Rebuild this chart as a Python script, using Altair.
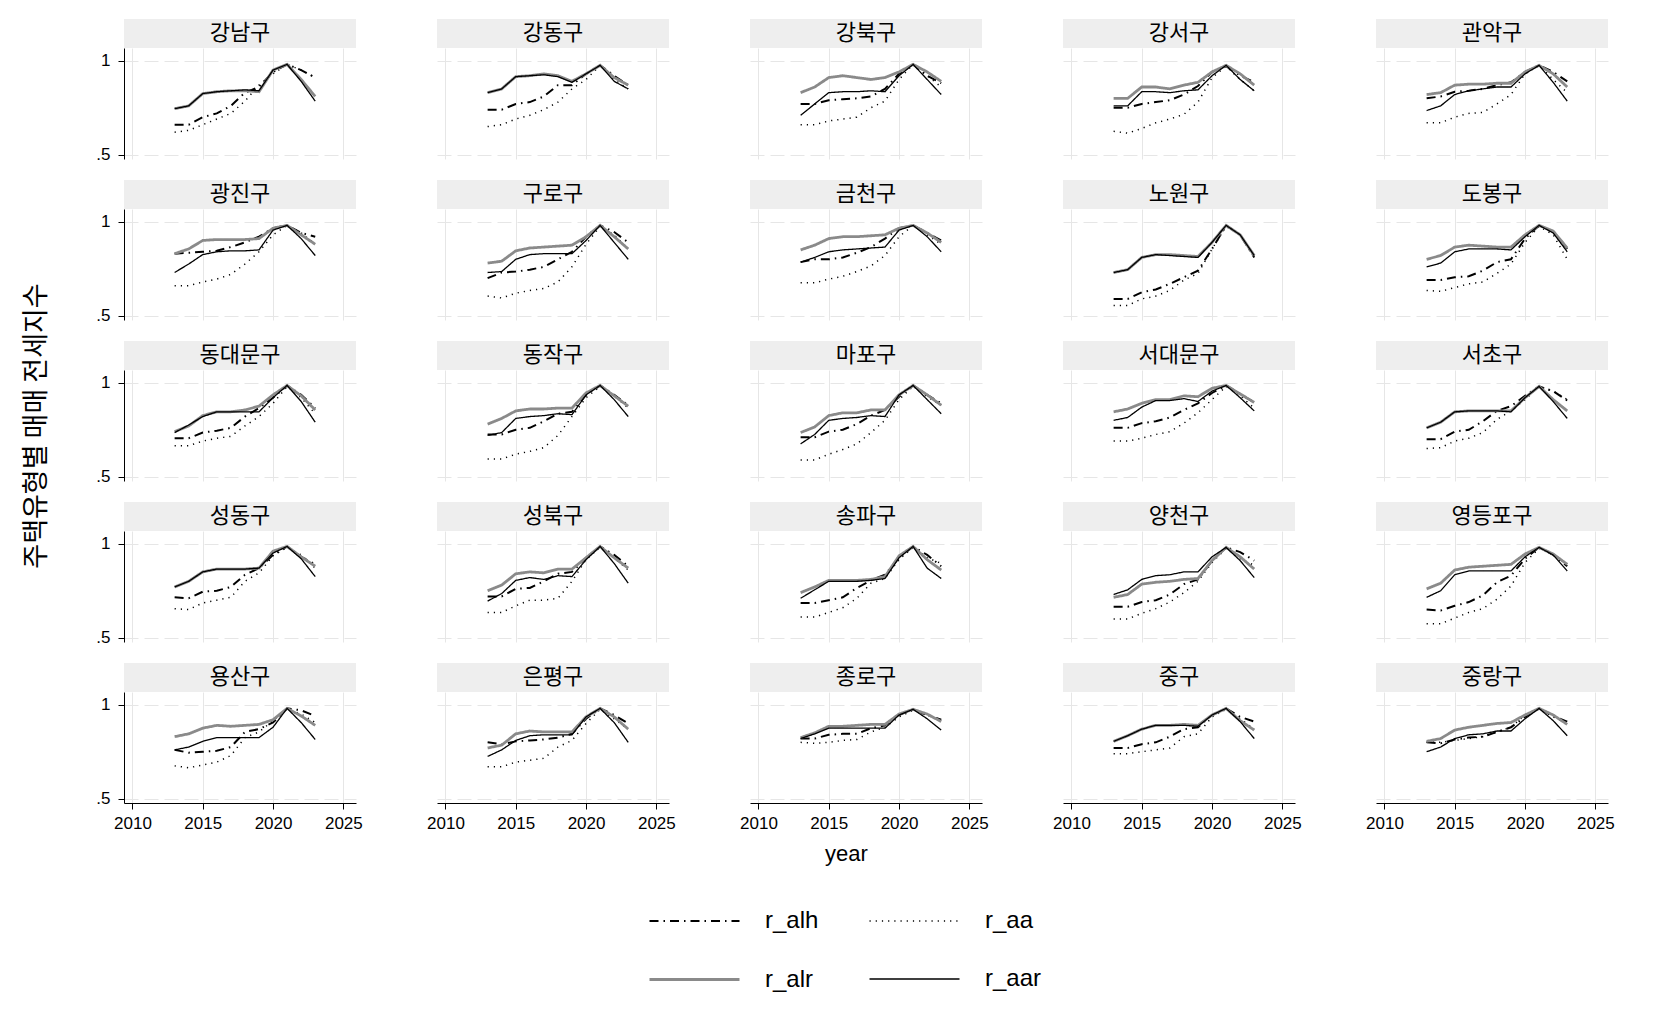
import altair as alt
import pandas as pd

YEARS = list(range(2013, 2024))
SERIES = ["r_alh", "r_aa", "r_alr", "r_aar"]          # drawing order
LEGEND_ORDER = ["r_alh", "r_alr", "r_aa", "r_aar"]    # legend filled column-wise
DISTRICTS = [
    "강남구", "강동구", "강북구", "강서구", "관악구",
    "광진구", "구로구", "금천구", "노원구", "도봉구",
    "동대문구", "동작구", "마포구", "서대문구", "서초구",
    "성동구", "성북구", "송파구", "양천구", "영등포구",
    "용산구", "은평구", "종로구", "중구", "중랑구",
]

R_ALH = {
    "강남구": [0.66, 0.66, 0.70, 0.72, 0.76, 0.83, 0.86, 0.94, 0.98, 0.95, 0.91],
    "강동구": [0.74, 0.74, 0.77, 0.78, 0.81, 0.87, 0.87, 0.93, 0.975, 0.92, 0.87],
    "강북구": [0.77, 0.77, 0.79, 0.795, 0.80, 0.81, 0.85, 0.93, 0.98, 0.92, 0.88],
    "강서구": [0.75, 0.75, 0.77, 0.78, 0.79, 0.82, 0.865, 0.94, 0.97, 0.92, 0.885],
    "관악구": [0.80, 0.81, 0.835, 0.84, 0.85, 0.87, 0.885, 0.94, 0.975, 0.94, 0.89],
    "광진구": [0.83, 0.835, 0.84, 0.845, 0.865, 0.89, 0.92, 0.965, 0.98, 0.94, 0.92],
    "구로구": [0.70, 0.73, 0.735, 0.745, 0.76, 0.80, 0.84, 0.92, 0.98, 0.945, 0.89],
    "금천구": [0.785, 0.80, 0.80, 0.81, 0.835, 0.865, 0.91, 0.965, 0.98, 0.94, 0.90],
    "노원구": [0.59, 0.59, 0.625, 0.64, 0.67, 0.705, 0.74, 0.855, 0.98, 0.93, 0.81],
    "도봉구": [0.69, 0.69, 0.705, 0.71, 0.74, 0.785, 0.80, 0.91, 0.98, 0.945, 0.855],
    "동대문구": [0.705, 0.705, 0.735, 0.745, 0.76, 0.82, 0.865, 0.92, 0.985, 0.935, 0.865],
    "동작구": [0.725, 0.725, 0.75, 0.76, 0.795, 0.835, 0.845, 0.935, 0.985, 0.935, 0.88],
    "마포구": [0.71, 0.71, 0.74, 0.75, 0.78, 0.825, 0.855, 0.925, 0.985, 0.935, 0.89],
    "서대문구": [0.76, 0.76, 0.785, 0.795, 0.815, 0.855, 0.89, 0.945, 0.985, 0.94, 0.895],
    "서초구": [0.70, 0.70, 0.74, 0.75, 0.795, 0.85, 0.875, 0.93, 0.98, 0.955, 0.905],
    "성동구": [0.715, 0.71, 0.745, 0.75, 0.77, 0.835, 0.87, 0.94, 0.985, 0.93, 0.89],
    "성북구": [0.72, 0.72, 0.76, 0.765, 0.80, 0.84, 0.85, 0.925, 0.985, 0.94, 0.88],
    "송파구": [0.685, 0.685, 0.70, 0.715, 0.765, 0.805, 0.835, 0.925, 0.985, 0.94, 0.88],
    "양천구": [0.665, 0.665, 0.69, 0.70, 0.73, 0.785, 0.81, 0.91, 0.98, 0.955, 0.91],
    "영등포구": [0.65, 0.645, 0.67, 0.69, 0.725, 0.795, 0.83, 0.92, 0.98, 0.94, 0.88],
    "용산구": [0.76, 0.745, 0.75, 0.755, 0.775, 0.855, 0.87, 0.905, 0.98, 0.97, 0.94],
    "은평구": [0.80, 0.79, 0.805, 0.81, 0.815, 0.825, 0.845, 0.925, 0.98, 0.945, 0.90],
    "종로구": [0.82, 0.82, 0.84, 0.845, 0.845, 0.875, 0.89, 0.945, 0.975, 0.945, 0.92],
    "중구": [0.77, 0.77, 0.79, 0.80, 0.83, 0.87, 0.88, 0.945, 0.98, 0.935, 0.91],
    "중랑구": [0.80, 0.795, 0.815, 0.825, 0.83, 0.855, 0.88, 0.935, 0.98, 0.94, 0.91],
}

R_AA = {
    "강남구": [0.62, 0.63, 0.66, 0.69, 0.72, 0.785, 0.87, 0.93, 0.98, 0.95, 0.91],
    "강동구": [0.65, 0.66, 0.69, 0.71, 0.74, 0.78, 0.85, 0.90, 0.975, 0.90, 0.85],
    "강북구": [0.66, 0.66, 0.68, 0.69, 0.70, 0.75, 0.785, 0.90, 0.98, 0.92, 0.86],
    "강서구": [0.625, 0.615, 0.64, 0.67, 0.69, 0.715, 0.78, 0.91, 0.97, 0.90, 0.84],
    "관악구": [0.67, 0.67, 0.70, 0.72, 0.725, 0.77, 0.82, 0.93, 0.975, 0.90, 0.83],
    "광진구": [0.66, 0.66, 0.68, 0.695, 0.72, 0.775, 0.84, 0.93, 0.98, 0.94, 0.88],
    "구로구": [0.605, 0.595, 0.62, 0.635, 0.645, 0.68, 0.76, 0.88, 0.975, 0.93, 0.855],
    "금천구": [0.675, 0.675, 0.695, 0.71, 0.735, 0.765, 0.82, 0.92, 0.98, 0.93, 0.88],
    "노원구": [0.555, 0.555, 0.59, 0.605, 0.635, 0.69, 0.725, 0.855, 0.975, 0.93, 0.81],
    "도봉구": [0.635, 0.63, 0.65, 0.67, 0.68, 0.725, 0.775, 0.89, 0.975, 0.93, 0.80],
    "동대문구": [0.665, 0.665, 0.69, 0.705, 0.715, 0.77, 0.82, 0.89, 0.98, 0.92, 0.835],
    "동작구": [0.595, 0.595, 0.62, 0.635, 0.655, 0.72, 0.82, 0.92, 0.98, 0.93, 0.865],
    "마포구": [0.59, 0.59, 0.62, 0.645, 0.675, 0.735, 0.80, 0.91, 0.98, 0.925, 0.88],
    "서대문구": [0.69, 0.69, 0.705, 0.725, 0.74, 0.785, 0.84, 0.91, 0.98, 0.93, 0.865],
    "서초구": [0.65, 0.655, 0.69, 0.705, 0.735, 0.805, 0.85, 0.91, 0.98, 0.955, 0.91],
    "성동구": [0.655, 0.65, 0.685, 0.70, 0.715, 0.80, 0.845, 0.935, 0.98, 0.94, 0.87],
    "성북구": [0.635, 0.635, 0.67, 0.70, 0.70, 0.71, 0.80, 0.915, 0.98, 0.925, 0.86],
    "송파구": [0.61, 0.61, 0.635, 0.66, 0.71, 0.79, 0.815, 0.915, 0.98, 0.925, 0.895],
    "양천구": [0.60, 0.60, 0.63, 0.655, 0.69, 0.74, 0.80, 0.90, 0.975, 0.92, 0.885],
    "영등포구": [0.575, 0.575, 0.605, 0.635, 0.655, 0.705, 0.775, 0.90, 0.975, 0.94, 0.89],
    "용산구": [0.675, 0.665, 0.68, 0.695, 0.73, 0.825, 0.855, 0.915, 0.975, 0.95, 0.905],
    "은평구": [0.67, 0.67, 0.695, 0.705, 0.715, 0.775, 0.81, 0.90, 0.975, 0.925, 0.87],
    "종로구": [0.80, 0.795, 0.80, 0.81, 0.815, 0.855, 0.88, 0.935, 0.97, 0.945, 0.915],
    "중구": [0.74, 0.74, 0.75, 0.76, 0.77, 0.83, 0.845, 0.935, 0.975, 0.925, 0.87],
    "중랑구": [0.80, 0.80, 0.81, 0.82, 0.83, 0.855, 0.88, 0.945, 0.975, 0.935, 0.90],
}

R_ALR = {
    "강남구": [0.745, 0.76, 0.825, 0.835, 0.84, 0.84, 0.835, 0.95, 0.98, 0.90, 0.81],
    "강동구": [0.83, 0.85, 0.915, 0.92, 0.93, 0.92, 0.89, 0.93, 0.975, 0.91, 0.87],
    "강북구": [0.83, 0.86, 0.91, 0.92, 0.91, 0.90, 0.91, 0.94, 0.98, 0.94, 0.89],
    "강서구": [0.80, 0.80, 0.86, 0.86, 0.85, 0.87, 0.885, 0.94, 0.975, 0.93, 0.87],
    "관악구": [0.82, 0.83, 0.87, 0.875, 0.875, 0.88, 0.88, 0.94, 0.975, 0.93, 0.86],
    "광진구": [0.83, 0.855, 0.90, 0.905, 0.905, 0.905, 0.91, 0.965, 0.98, 0.93, 0.88],
    "구로구": [0.78, 0.79, 0.845, 0.86, 0.865, 0.87, 0.875, 0.92, 0.98, 0.92, 0.855],
    "금천구": [0.85, 0.875, 0.91, 0.92, 0.92, 0.925, 0.93, 0.965, 0.98, 0.94, 0.89],
    "노원구": [0.73, 0.745, 0.81, 0.825, 0.825, 0.82, 0.815, 0.89, 0.98, 0.93, 0.82],
    "도봉구": [0.80, 0.82, 0.865, 0.875, 0.87, 0.865, 0.865, 0.93, 0.98, 0.95, 0.86],
    "동대문구": [0.74, 0.77, 0.825, 0.845, 0.845, 0.855, 0.875, 0.935, 0.985, 0.93, 0.855],
    "동작구": [0.78, 0.81, 0.85, 0.86, 0.86, 0.865, 0.865, 0.945, 0.985, 0.93, 0.875],
    "마포구": [0.735, 0.765, 0.825, 0.84, 0.84, 0.855, 0.855, 0.935, 0.985, 0.935, 0.88],
    "서대문구": [0.845, 0.86, 0.89, 0.91, 0.91, 0.93, 0.925, 0.97, 0.985, 0.94, 0.895],
    "서초구": [0.76, 0.79, 0.845, 0.85, 0.85, 0.85, 0.85, 0.92, 0.98, 0.91, 0.85],
    "성동구": [0.77, 0.80, 0.85, 0.865, 0.865, 0.865, 0.87, 0.96, 0.985, 0.93, 0.88],
    "성북구": [0.75, 0.78, 0.84, 0.85, 0.845, 0.865, 0.865, 0.925, 0.985, 0.925, 0.87],
    "송파구": [0.74, 0.77, 0.805, 0.805, 0.805, 0.81, 0.825, 0.935, 0.985, 0.915, 0.86],
    "양천구": [0.715, 0.73, 0.785, 0.795, 0.80, 0.81, 0.815, 0.91, 0.98, 0.93, 0.865],
    "영등포구": [0.76, 0.79, 0.86, 0.875, 0.88, 0.885, 0.89, 0.945, 0.98, 0.945, 0.89],
    "용산구": [0.83, 0.845, 0.875, 0.89, 0.885, 0.89, 0.895, 0.92, 0.98, 0.94, 0.89],
    "은평구": [0.77, 0.785, 0.845, 0.86, 0.855, 0.855, 0.855, 0.935, 0.98, 0.935, 0.87],
    "종로구": [0.825, 0.85, 0.885, 0.885, 0.89, 0.895, 0.895, 0.95, 0.975, 0.95, 0.91],
    "중구": [0.805, 0.835, 0.87, 0.89, 0.89, 0.895, 0.89, 0.945, 0.98, 0.915, 0.865],
    "중랑구": [0.805, 0.82, 0.865, 0.88, 0.89, 0.90, 0.905, 0.945, 0.98, 0.945, 0.895],
}

R_AAR = {
    "강남구": [0.745, 0.76, 0.825, 0.835, 0.84, 0.845, 0.84, 0.95, 0.98, 0.89, 0.785],
    "강동구": [0.83, 0.85, 0.915, 0.92, 0.925, 0.915, 0.885, 0.93, 0.975, 0.89, 0.85],
    "강북구": [0.71, 0.77, 0.83, 0.835, 0.835, 0.84, 0.835, 0.92, 0.98, 0.90, 0.82],
    "강서구": [0.76, 0.76, 0.835, 0.835, 0.83, 0.84, 0.845, 0.92, 0.975, 0.90, 0.84],
    "관악구": [0.735, 0.76, 0.82, 0.84, 0.85, 0.86, 0.86, 0.93, 0.975, 0.885, 0.785],
    "광진구": [0.73, 0.775, 0.825, 0.84, 0.845, 0.845, 0.85, 0.955, 0.98, 0.91, 0.82],
    "구로구": [0.73, 0.735, 0.80, 0.825, 0.83, 0.83, 0.83, 0.90, 0.98, 0.89, 0.80],
    "금천구": [0.785, 0.81, 0.84, 0.85, 0.855, 0.86, 0.865, 0.955, 0.98, 0.92, 0.84],
    "노원구": [0.73, 0.745, 0.81, 0.825, 0.82, 0.815, 0.81, 0.89, 0.98, 0.93, 0.82],
    "도봉구": [0.76, 0.78, 0.84, 0.855, 0.855, 0.855, 0.85, 0.92, 0.98, 0.94, 0.84],
    "동대문구": [0.735, 0.775, 0.82, 0.845, 0.845, 0.845, 0.845, 0.92, 0.985, 0.90, 0.79],
    "동작구": [0.72, 0.735, 0.81, 0.82, 0.825, 0.835, 0.83, 0.935, 0.985, 0.91, 0.82],
    "마포구": [0.675, 0.725, 0.80, 0.81, 0.815, 0.825, 0.82, 0.935, 0.985, 0.91, 0.835],
    "서대문구": [0.80, 0.815, 0.87, 0.905, 0.905, 0.915, 0.90, 0.955, 0.985, 0.92, 0.85],
    "서초구": [0.76, 0.79, 0.845, 0.85, 0.85, 0.85, 0.845, 0.92, 0.98, 0.90, 0.81],
    "성동구": [0.77, 0.80, 0.85, 0.865, 0.865, 0.865, 0.87, 0.95, 0.985, 0.92, 0.825],
    "성북구": [0.695, 0.735, 0.805, 0.82, 0.81, 0.83, 0.825, 0.915, 0.985, 0.895, 0.79],
    "송파구": [0.71, 0.755, 0.80, 0.80, 0.80, 0.805, 0.815, 0.925, 0.985, 0.87, 0.815],
    "양천구": [0.73, 0.755, 0.81, 0.83, 0.835, 0.85, 0.85, 0.93, 0.98, 0.91, 0.82],
    "영등포구": [0.715, 0.75, 0.835, 0.855, 0.855, 0.855, 0.855, 0.93, 0.98, 0.94, 0.855],
    "용산구": [0.76, 0.775, 0.805, 0.825, 0.825, 0.825, 0.825, 0.88, 0.98, 0.905, 0.815],
    "은평구": [0.725, 0.76, 0.81, 0.835, 0.84, 0.84, 0.84, 0.935, 0.98, 0.905, 0.80],
    "종로구": [0.82, 0.845, 0.875, 0.875, 0.875, 0.875, 0.875, 0.945, 0.975, 0.925, 0.865],
    "중구": [0.805, 0.835, 0.87, 0.89, 0.89, 0.89, 0.885, 0.945, 0.98, 0.91, 0.82],
    "중랑구": [0.75, 0.775, 0.82, 0.84, 0.845, 0.86, 0.86, 0.925, 0.98, 0.915, 0.835],
}

SERIES_DATA = {"r_alh": R_ALH, "r_aa": R_AA, "r_alr": R_ALR, "r_aar": R_AAR}
X_TICKS = [2010, 2015, 2020, 2025]
Y_TICKS = [0.5, 1]
Y_TITLE = "주택유형별 매매 전세지수"
X_TITLE = "year"

rows = []
for s in SERIES:
    for d in DISTRICTS:
        for yr, v in zip(YEARS, SERIES_DATA[s][d]):
            rows.append({"district": d, "series": s, "year": yr, "value": v})
df = pd.DataFrame(rows)

# layout / styling
W = 232
HH = 29
PH = 111
KFONT = "Noto Sans CJK KR"
LFONT = "Liberation Sans"
GRID = "#e6e6e6"

STYLE = {
    "r_alh": ("black", [9, 5, 1.5, 5], 2.0),
    "r_alr": ("#8a8a8a", [1, 0], 2.8),
    "r_aa": ("black", [1.2, 5], 1.5),
    "r_aar": ("black", [1, 0], 1.3),
}
COLOR_SCALE = alt.Scale(domain=LEGEND_ORDER, range=[STYLE[s][0] for s in LEGEND_ORDER])
DASH_SCALE = alt.Scale(domain=LEGEND_ORDER, range=[STYLE[s][1] for s in LEGEND_ORDER])
WIDTH_SCALE = alt.Scale(type="ordinal", domain=LEGEND_ORDER,
                        range=[STYLE[s][2] for s in LEGEND_ORDER])

LEG = alt.Legend(
    title=None, orient="none", legendX=524, legendY=827, columns=2,
    symbolType="stroke", symbolSize=8100, labelFont=LFONT, labelFontSize=24,
    labelColor="black", labelOffset=24, columnPadding=47, rowPadding=-41,
    padding=0,
)


def panel(i, d):
    r, c = divmod(i, 5)
    bottom = r == 4
    left = c == 0
    head_df = pd.DataFrame({"district": [d]})
    head_box = alt.Chart(head_df).mark_rect(color="#eeeeee").encode(
        x=alt.value(0), x2=alt.value(W), y=alt.value(-HH), y2=alt.value(0)
    )
    head_txt = alt.Chart(head_df).mark_text(
        font=KFONT, fontSize=22, color="black", baseline="middle", align="center"
    ).encode(x=alt.value(W / 2), y=alt.value(-HH / 2 - 0.5), text="district:N")

    x_kw = dict(
        values=X_TICKS, grid=True, gridColor=GRID, gridWidth=1,
        domain=bottom, ticks=bottom, labels=bottom, format="d",
        tickSize=6, labelPadding=6, domainColor="black", tickColor="black",
        labelFont=LFONT, labelFontSize=17, labelColor="black",
    )
    if bottom and c == 2:
        x_kw.update(title=X_TITLE, titleFont=LFONT, titleFontSize=22,
                    titleFontWeight="normal", titlePadding=12, titleX=96,
                    titleAlign="center", titleColor="black")
    else:
        x_kw.update(title=None)
    y_kw = dict(
        values=Y_TICKS, grid=True, gridColor=GRID, gridWidth=1, gridDash=[14, 6],
        domain=left, ticks=left, labels=left,
        labelExpr="datum.value == 1 ? '1' : '.5'",
        tickSize=6, labelPadding=8, domainColor="black", tickColor="black",
        labelFont=LFONT, labelFontSize=17, labelColor="black",
    )
    if left and r == 2:
        y_kw.update(title=Y_TITLE, titleFont=KFONT, titleFontSize=27,
                    titleFontWeight="normal", titlePadding=45, titleColor="black")
    else:
        y_kw.update(title=None)

    sub = df[df["district"] == d]
    base = alt.Chart(sub).encode(
        x=alt.X("year:Q", scale=alt.Scale(domain=[2009.4, 2025.9], nice=False, zero=False),
                axis=alt.Axis(**x_kw)),
        y=alt.Y("value:Q", scale=alt.Scale(domain=[0.478, 1.067], nice=False, zero=False),
                axis=alt.Axis(**y_kw)),
        color=alt.Color("series:N", scale=COLOR_SCALE, legend=LEG),
        strokeDash=alt.StrokeDash("series:N", scale=DASH_SCALE, legend=LEG),
        strokeWidth=alt.StrokeWidth("series:N", scale=WIDTH_SCALE, legend=LEG),
    )
    layers = [base.mark_line().transform_filter(alt.datum.series == s) for s in SERIES]
    return alt.layer(head_box, head_txt, *layers).properties(
        width=W, height=PH, view=alt.ViewBackground(fill="white", stroke="transparent")
    )


panels = [panel(i, d) for i, d in enumerate(DISTRICTS)]

chart = (
    alt.concat(*panels, columns=5, spacing={"row": 50, "column": 81}, bounds="flush")
    .properties(padding={"left": 14, "top": 10, "right": 10, "bottom": 10})
    .configure(background="white")
)

chart.save("out.html", embed_options={"renderer": "svg", "actions": False})
